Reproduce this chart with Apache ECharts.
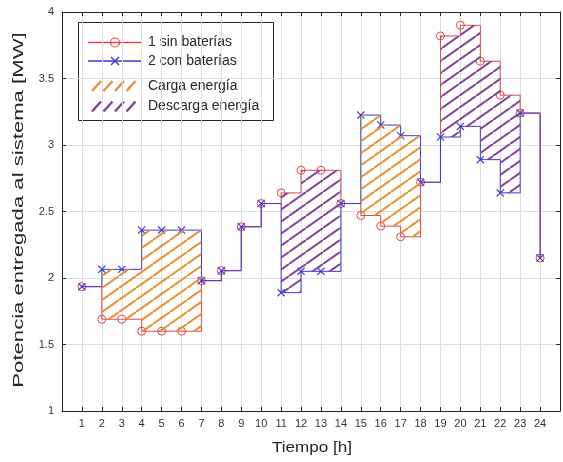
<!DOCTYPE html>
<html>
<head>
<meta charset="utf-8">
<script src="https://cdn.jsdelivr.net/npm/echarts@6/dist/echarts.min.js"></script>
<style>html,body{margin:0;padding:0;background:#fff;}#c{width:563px;height:462px;}</style>
</head>
<body>
<div id="c"></div>
<script>
// ---- data ----
var hours = [1,2,3,4,5,6,7,8,9,10,11,12,13,14,15,16,17,18,19,20,21,22,23,24];
var sinBaterias = [1.935,1.69,1.69,1.60,1.60,1.60,1.98,2.055,2.385,2.56,2.64,2.81,2.81,2.56,2.47,2.39,2.31,2.72,3.82,3.90,3.63,3.375,3.24,2.15];
var conBaterias = [1.935,2.065,2.065,2.36,2.36,2.36,1.98,2.055,2.385,2.56,1.89,2.05,2.05,2.56,3.225,3.15,3.07,2.72,3.06,3.14,2.89,2.64,3.24,2.15];
var xTickLabels = [1,2,3,4,5,6,7,8,9,10,11,12,13,14,15,16,17,18,19,20,21,22,23,24];
var yTickLabels = [1,1.5,2,2.5,3,3.5,4];
var legendLabels = ['1 sin baterías','2 con baterías','Carga energía','Descarga energía'];
var xName = 'Tiempo [h]';
var yName = 'Potencia entregada al sistema [MW]';

// ---- styles ----
var RED = '#e04848', BLUE = '#3a3ad0', ORANGE = '#e8913a', PURPLE = '#84449a', AX = '#262626';

function makePattern(color){
  var W = 17, H = 12;
  var cv = document.createElement('canvas'); cv.width = W; cv.height = H;
  var ctx = cv.getContext('2d');
  ctx.strokeStyle = color; ctx.lineWidth = 2;
  [-W,0,W].forEach(function(dx){ ctx.beginPath(); ctx.moveTo(dx,H); ctx.lineTo(dx+W,0); ctx.stroke(); });
  return {image: cv, repeat: 'repeat'};
}
var patCharge = makePattern(ORANGE), patDischarge = makePattern(PURPLE);

// regions where the two curves differ
function regions(sign){
  var out = [], start = null;
  for (var i = 0; i < hours.length - 1; i++){
    var d = conBaterias[i] - sinBaterias[i];
    var ok = sign > 0 ? d > 1e-9 : d < -1e-9;
    if (ok && start === null) start = i;
    if (!ok && start !== null){ out.push([hours[start], hours[i-1]]); start = null; }
  }
  if (start !== null) out.push([hours[start], hours[hours.length-2]]);
  return out;
}
var chargeRegions = regions(1), dischargeRegions = regions(-1);

function hatchRender(pattern){
  return function(params, api){
    var s = api.value(0), e = api.value(1);
    var pts = [];
    for (var h = s; h <= e; h++){
      var i = hours.indexOf(h);
      var hi = Math.max(sinBaterias[i], conBaterias[i]);
      pts.push(api.coord([h, hi])); pts.push(api.coord([h+1, hi]));
    }
    for (var h2 = e; h2 >= s; h2--){
      var j = hours.indexOf(h2);
      var lo = Math.min(sinBaterias[j], conBaterias[j]);
      pts.push(api.coord([h2+1, lo])); pts.push(api.coord([h2, lo]));
    }
    return {type:'polygon', shape:{points: pts}, style:{fill: pattern, stroke: null}};
  };
}

var X_PATH = 'path://M0,1L1,0L5,4L9,0L10,1L6,5L10,9L9,10L5,6L1,10L0,9L4,5Z';
var FONT = 'Liberation Sans, Arial, sans-serif';

var chart = echarts.init(document.getElementById('c'), null, {renderer:'canvas'});
var axisCommon = {
  type:'value',
  axisLine:{show:true, onZero:false, lineStyle:{color:AX, width:1}},
  axisTick:{show:true, inside:true, length:4, lineStyle:{color:AX}},
};
function legendSlashes(x, y, color){
  var arr = [];
  for (var k = 0; k < 4; k++){
    arr.push({type:'line', shape:{x1:x+k*11.5, y1:y+5, x2:x+k*11.5+9, y2:y-5}, style:{stroke:color, lineWidth:2.5}});
  }
  return arr;
}
var legendEls = [
  {type:'rect', shape:{x:78.5, y:22.5, width:195, height:98}, style:{fill:'#fff', stroke:AX, lineWidth:1}},
  {type:'line', shape:{x1:88, y1:42.5, x2:142, y2:42.5}, style:{stroke:RED, lineWidth:1.5}},
  {type:'circle', shape:{cx:115, cy:42.5, r:4.5}, style:{fill:'none', stroke:RED, lineWidth:1.2}},
  {type:'line', shape:{x1:88, y1:61, x2:142, y2:61}, style:{stroke:BLUE, lineWidth:1.5}},
  {type:'line', shape:{x1:111, y1:57, x2:119, y2:65}, style:{stroke:BLUE, lineWidth:1.5}},
  {type:'line', shape:{x1:119, y1:57, x2:111, y2:65}, style:{stroke:BLUE, lineWidth:1.5}},
  {type:'text', style:{x:148, y:42.5, text:legendLabels[0], fill:AX, font:'14px '+FONT, verticalAlign:'middle'}},
  {type:'text', style:{x:148, y:61, text:legendLabels[1], fill:AX, font:'14px '+FONT, verticalAlign:'middle'}},
  {type:'text', style:{x:148, y:86, text:legendLabels[2], fill:AX, font:'14px '+FONT, verticalAlign:'middle'}},
  {type:'text', style:{x:148, y:106.5, text:legendLabels[3], fill:AX, font:'14px '+FONT, verticalAlign:'middle'}},
  // axis titles (stretched along their length as in the reference)
  {type:'text', x:19, y:210, rotation:Math.PI/2, scaleX:1.58, scaleY:1,
    style:{text:yName, fill:AX, font:'14px '+FONT, align:'center', verticalAlign:'middle'}},
  {type:'text', x:312, y:448, scaleX:1.22, scaleY:1,
    style:{text:xName, fill:AX, font:'14px '+FONT, align:'center', verticalAlign:'middle'}}
].concat(legendSlashes(92, 86, ORANGE)).concat(legendSlashes(92, 106.5, PURPLE));

chart.setOption({
  animation:false,
  backgroundColor:'#fff',
  textStyle:{fontFamily:FONT},
  grid:{left:62, right:2, top:12, bottom:51, containLabel:false},
  xAxis:[
    Object.assign({}, axisCommon, {
      position:'bottom', min:0, max:25, interval:1,
      axisLabel:{show:true, margin:7, fontSize:11, color:'#333', fontFamily:FONT,
        formatter:function(v){ return xTickLabels.indexOf(v) >= 0 ? String(v) : ''; }},
      splitLine:{show:true, lineStyle:{color:'#dedede', width:1}}
    }),
    Object.assign({}, axisCommon, {position:'top', min:0, max:25, interval:1, axisLabel:{show:false}, splitLine:{show:false}})
  ],
  yAxis:[
    Object.assign({}, axisCommon, {
      position:'left', min:yTickLabels[0], max:yTickLabels[yTickLabels.length-1], interval:0.5,
      axisLabel:{show:true, margin:8, fontSize:11, color:'#333', fontFamily:FONT},
      splitLine:{show:true, lineStyle:{color:'#dedede', width:1}}
    }),
    Object.assign({}, axisCommon, {position:'right', min:yTickLabels[0], max:yTickLabels[yTickLabels.length-1], interval:0.5, axisLabel:{show:false}, splitLine:{show:false}})
  ],
  series:[
    {name:legendLabels[0], type:'line', step:'end', data:hours.map(function(h,i){return [h, sinBaterias[i]];}),
      symbol:'circle', symbolSize:8, showAllSymbol:true, z:3,
      lineStyle:{color:RED, width:1}, itemStyle:{color:'rgba(0,0,0,0)', borderColor:RED, borderWidth:1}},
    {name:legendLabels[1], type:'line', step:'end', data:hours.map(function(h,i){return [h, conBaterias[i]];}),
      symbol:X_PATH, symbolSize:8, showAllSymbol:true, z:4,
      lineStyle:{color:BLUE, width:1}, itemStyle:{color:BLUE, borderWidth:0}},
    {name:legendLabels[2], type:'custom', renderItem:hatchRender(patCharge), data:chargeRegions, z:5, encode:{x:[0,1]}},
    {name:legendLabels[3], type:'custom', renderItem:hatchRender(patDischarge), data:dischargeRegions, z:5, encode:{x:[0,1]}}
  ],
  graphic:legendEls
});
</script>
</body>
</html>
